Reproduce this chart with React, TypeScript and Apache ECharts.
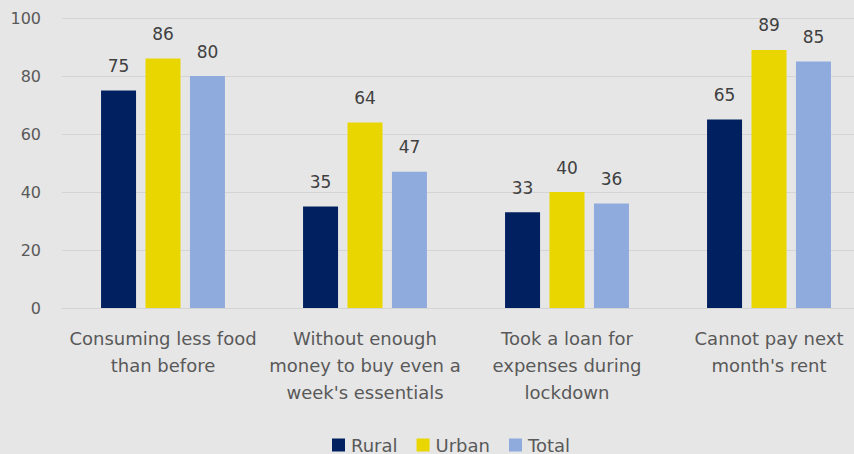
import React, { useEffect, useRef } from "react";
import * as echarts from "echarts";

const categories = [
  "Consuming less food\nthan before",
  "Without enough\nmoney to buy even a\nweek's essentials",
  "Took a loan for\nexpenses during\nlockdown",
  "Cannot pay next\nmonth's rent",
];
const rural = [75, 35, 33, 65];
const urban = [86, 64, 40, 89];
const total = [80, 47, 36, 85];
const yTicks = { min: 0, max: 100, interval: 20 };

const FONT = "'DejaVu Sans', sans-serif";
const TEXT = "#595959";

export default function App() {
  const ref = useRef<HTMLDivElement>(null);
  useEffect(() => {
    document.body.style.margin = "0";
    document.body.style.overflow = "hidden";
    const chart = echarts.init(ref.current!, null, { renderer: "svg" });
    const label = {
      show: true,
      position: "top" as const,
      distance: 16,
      color: "#404040",
      fontSize: 17,
      fontFamily: FONT,
    };
    chart.setOption({
      animation: false,
      backgroundColor: "#e6e6e6",
      textStyle: { fontFamily: FONT },
      grid: { left: 62, top: 18, width: 808, height: 290, containLabel: false },
      legend: {
        left: 327,
        top: 431,
        itemWidth: 13,
        itemHeight: 13,
        itemGap: 19,
        icon: "rect",
        textStyle: { color: TEXT, fontSize: 18, lineHeight: 18, fontFamily: FONT, padding: [0, 0, 0, 1] },
        data: ["Rural", "Urban", "Total"],
      },
      xAxis: {
        type: "category",
        data: categories,
        axisLine: { lineStyle: { color: "#d4d4d4", width: 1 } },
        axisTick: { show: false },
        axisLabel: {
          color: TEXT,
          fontSize: 18,
          lineHeight: 27,
          margin: 17,
          fontFamily: FONT,
          interval: 0,
        },
      },
      yAxis: {
        type: "value",
        min: yTicks.min,
        max: yTicks.max,
        interval: yTicks.interval,
        axisLine: { show: false },
        axisTick: { show: false },
        splitLine: { lineStyle: { color: "#d4d4d4", width: 1 } },
        axisLabel: { color: TEXT, fontSize: 16, margin: 21, fontFamily: FONT },
      },
      series: [
        { name: "Rural", type: "bar", data: rural, barWidth: 35, barGap: "27%", itemStyle: { color: "#002060" }, label },
        { name: "Urban", type: "bar", data: urban, barWidth: 35, barGap: "27%", itemStyle: { color: "#e9d500" }, label },
        { name: "Total", type: "bar", data: total, barWidth: 35, barGap: "27%", itemStyle: { color: "#8faadc" }, label },
      ],
    });
    return () => chart.dispose();
  }, []);
  return <div ref={ref} style={{ width: 870, height: 454, position: "absolute", left: 0, top: 0 }} />;
}
